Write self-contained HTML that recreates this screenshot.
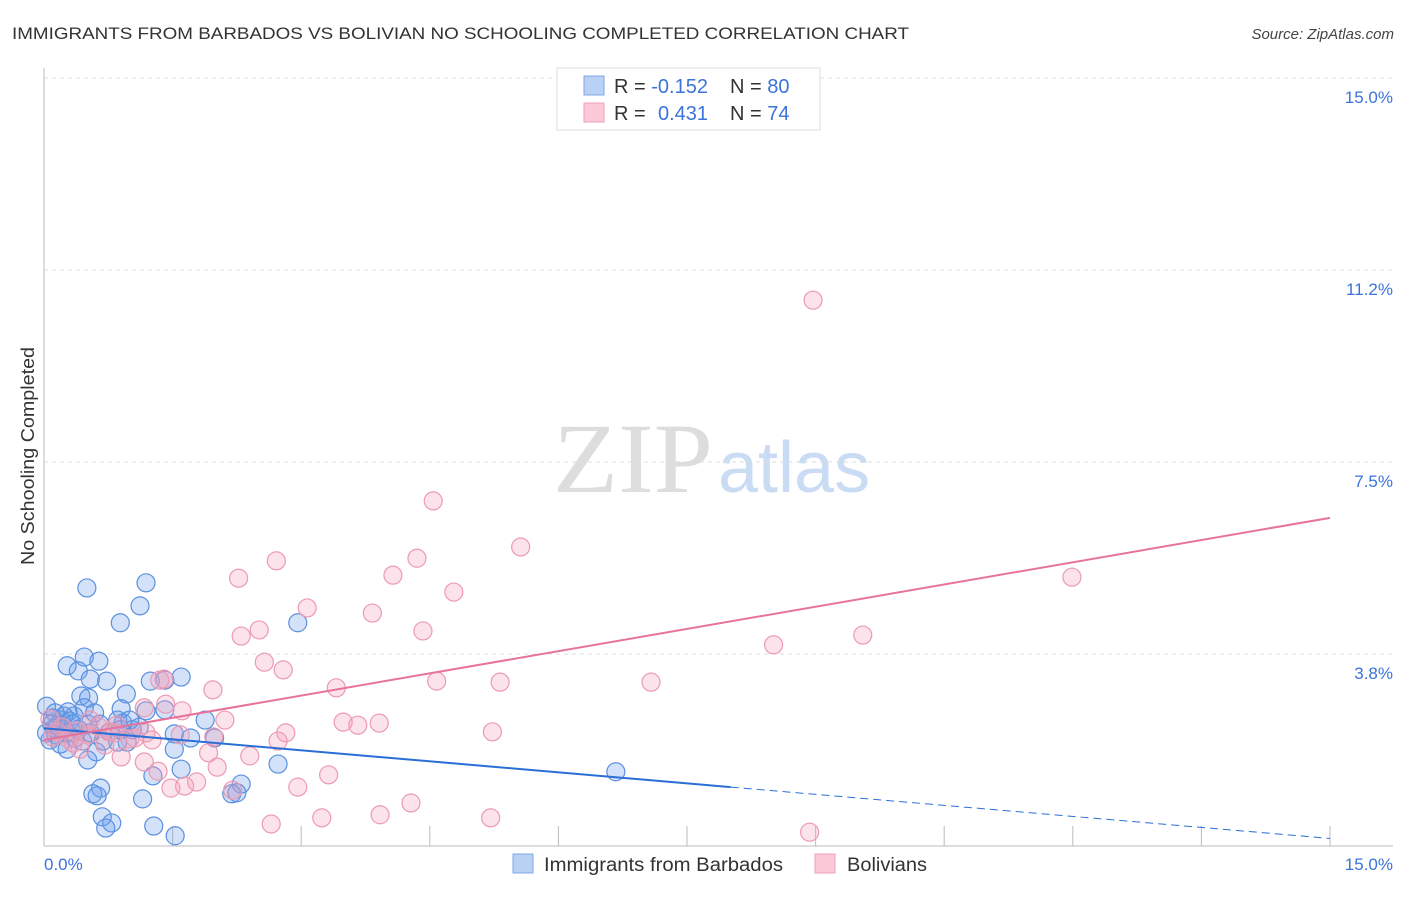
<!DOCTYPE html>
<html><head><meta charset="utf-8"><style>
body{margin:0;background:#fff;width:1406px;height:892px;overflow:hidden;font-family:"Liberation Sans",sans-serif}
</style></head><body>
<svg id="c" width="1406" height="892" font-family="Liberation Sans, sans-serif">
<text x="12" y="39" font-size="17" fill="#333" textLength="897" lengthAdjust="spacingAndGlyphs">IMMIGRANTS FROM BARBADOS VS BOLIVIAN NO SCHOOLING COMPLETED CORRELATION CHART</text>
<text x="1394" y="39" font-size="15" fill="#444" text-anchor="end" font-style="italic">Source: ZipAtlas.com</text>
<text transform="translate(34,456) rotate(-90)" font-size="18" fill="#333" text-anchor="middle" textLength="218" lengthAdjust="spacingAndGlyphs">No Schooling Completed</text>
<g><text x="553" y="492" font-size="100" fill="#ddd" style="font-family:'Liberation Serif',serif" textLength="160" lengthAdjust="spacingAndGlyphs">ZIP</text><text x="718" y="492" font-size="72" fill="#c9dcf3">atlas</text></g>
<g id="grid"></g><g id="marks"></g>
<g>
<rect x="557" y="68" width="263" height="62" fill="#fff" stroke="#ddd"/>
<rect x="584" y="76" width="20" height="19" fill="#b8d1f5" stroke="#7fa8e6"/>
<rect x="584" y="103" width="20" height="19" fill="#fbc9d7" stroke="#f0a0b8"/>
<text x="614" y="93" font-size="20" fill="#333">R = <tspan fill="#3b73d9">-0.152</tspan><tspan x="730">N = </tspan><tspan fill="#3b73d9">80</tspan></text>
<text x="614" y="120" font-size="20" fill="#333">R = <tspan x="658" fill="#3b73d9">0.431</tspan><tspan x="730">N = </tspan><tspan fill="#3b73d9">74</tspan></text>
</g>
<g>
<rect x="513" y="854" width="20" height="19" fill="#b8d1f5" stroke="#7fa8e6"/>
<text x="544" y="871" font-size="19" fill="#333" textLength="239" lengthAdjust="spacingAndGlyphs">Immigrants from Barbados</text>
<rect x="815" y="854" width="20" height="19" fill="#fbc9d7" stroke="#f0a0b8"/>
<text x="847" y="871" font-size="19" fill="#333" textLength="80" lengthAdjust="spacingAndGlyphs">Bolivians</text>
</g>
</svg>
<script>
const yTicks=[3.75,7.5,11.25,15];
const yTickLabels=["3.8%","7.5%","11.2%","15.0%"];
const xTickCount=10;
const blueX=[0.50,1.19,1.12,0.89,2.96,0.47,0.27,0.64,0.40,0.73,0.54,1.41,1.60,1.24,0.43,0.96,0.52,0.03,0.47,0.28,0.90,1.19,0.10,0.20,0.35,0.86,0.92,1.88,0.51,0.65,1.03,1.52,0.14,0.21,0.07,0.36,0.97,1.71,0.27,0.61,1.52,0.51,2.73,1.60,1.27,6.67,0.66,2.30,0.57,0.62,1.15,2.19,2.25,0.68,0.79,0.72,1.28,1.53,0.12,0.16,0.03,0.19,0.45,0.77,1.11,1.99,0.86,0.30,0.23,0.59,0.40,0.13,1.00,0.54,0.09,0.26,0.34,0.69,1.41,0.89];
const blueY=[5.04,5.14,4.69,4.36,4.36,3.69,3.52,3.61,3.42,3.22,3.26,3.24,3.30,3.22,2.93,2.97,2.89,2.73,2.70,2.62,2.68,2.64,2.50,2.46,2.54,2.46,2.40,2.46,2.38,2.38,2.27,2.19,2.17,2.27,2.07,2.11,2.03,2.11,1.89,1.84,1.89,1.68,1.60,1.50,1.37,1.45,1.13,1.21,1.02,0.98,0.92,1.02,1.04,0.57,0.45,0.35,0.39,0.20,2.30,2.36,2.21,1.99,2.05,2.23,2.32,2.11,2.03,2.44,2.54,2.60,2.28,2.60,2.46,2.21,2.38,2.21,2.38,2.05,2.66,2.27];
const pinkX=[8.97,4.54,5.56,4.35,2.71,4.07,2.27,11.99,4.78,3.07,3.83,4.42,2.51,2.30,9.55,8.51,2.57,2.79,4.58,5.32,7.08,1.97,3.41,1.42,1.61,1.17,2.11,3.49,3.91,3.66,2.82,5.23,1.40,1.35,1.59,1.19,1.00,1.98,0.76,0.63,0.85,0.51,0.29,0.34,0.15,0.10,0.42,0.90,1.17,1.92,2.40,2.73,2.02,1.33,3.32,1.78,1.48,1.64,2.20,2.96,4.28,3.92,3.24,5.21,2.65,8.93,0.71,0.21,0.54,1.06,0.07,0.37,0.83,1.26];
const pinkY=[10.66,6.74,5.84,5.62,5.57,5.29,5.23,5.25,4.96,4.65,4.55,4.20,4.22,4.10,4.12,3.93,3.59,3.44,3.22,3.20,3.20,3.05,3.09,2.77,2.64,2.70,2.46,2.42,2.40,2.36,2.21,2.23,3.26,3.24,2.17,2.21,2.09,2.13,2.23,2.34,2.36,2.17,2.09,2.01,2.23,2.13,1.89,1.74,1.64,1.82,1.76,2.05,1.54,1.46,1.39,1.25,1.13,1.17,1.09,1.15,0.84,0.61,0.55,0.55,0.43,0.27,1.97,2.32,2.46,2.11,2.48,2.25,2.21,2.07];
const blueTrend=[2.30,-0.1435];
const blueSolidEnd=8.01;
const pinkTrend=[2.07,0.2893];
const X0=44,X1=1330,Y0=846,Y1=78,XMAX=15,YMAX=15;
const sx=v=>X0+v/XMAX*(X1-X0), sy=v=>Y0-v/YMAX*(Y0-Y1);
const NS="http://www.w3.org/2000/svg";
function mk(tag,attrs,parent){const e=document.createElementNS(NS,tag);for(const k in attrs)e.setAttribute(k,attrs[k]);parent.appendChild(e);return e;}
const grid=document.getElementById('grid'),marks=document.getElementById('marks');
yTicks.forEach((t,i)=>{
 const l=mk('line',{x1:X0,x2:1393,y1:sy(t),y2:sy(t),stroke:'#ddd','stroke-dasharray':'4,4'},grid);
 
 
 const tx=mk('text',{x:1393,y:sy(t)+25,'font-size':17,fill:'#3b73d9','text-anchor':'end'},grid);
 tx.textContent=yTickLabels[i];
 
 
});
const ax=mk('line',{x1:X0,x2:X0,y1:68,y2:Y0,stroke:'#bbb'},grid);


const bx=mk('line',{x1:X0,x2:1393,y1:Y0,y2:Y0,stroke:'#bbb'},grid);


for(let i=1;i<=xTickCount;i++){
 const v=i*XMAX/xTickCount;
 const t=mk('line',{x1:sx(v),x2:sx(v),y1:Y0-20,y2:Y0,stroke:'#bbb'},grid);
 
 
}
const xl=mk('text',{x:44,y:870,'font-size':17,fill:'#3b73d9'},grid);xl.textContent='0.0%';


const xr=mk('text',{x:1393,y:870,'font-size':17,fill:'#3b73d9','text-anchor':'end'},grid);xr.textContent='15.0%';


function pts(X,Y,fill,stroke,name){X.forEach((x,i)=>{const c=mk('circle',{cx:sx(x),cy:sy(Y[i]),r:9,fill:fill,stroke:stroke,'stroke-width':1.2},marks);
 
 });}
pts(blueX,blueY,'rgba(110,160,235,0.3)','#5a90e0','point-barbados');
pts(pinkX,pinkY,'rgba(245,160,185,0.3)','#ec9ab2','point-bolivians');
const bt=x=>blueTrend[0]+blueTrend[1]*x, pt=x=>pinkTrend[0]+pinkTrend[1]*x;
const l1=mk('line',{x1:sx(0),y1:sy(bt(0)),x2:sx(blueSolidEnd),y2:sy(bt(blueSolidEnd)),stroke:'#2a6fd6','stroke-width':2},marks);


const l2=mk('line',{x1:sx(blueSolidEnd),y1:sy(bt(blueSolidEnd)),x2:sx(15),y2:sy(bt(15)),stroke:'#2a6fd6','stroke-width':1,'stroke-dasharray':'8,5'},marks);


const l3=mk('line',{x1:sx(0),y1:sy(pt(0)),x2:sx(15),y2:sy(pt(15)),stroke:'#e8739a','stroke-width':2},marks);


</script>
</body></html>
